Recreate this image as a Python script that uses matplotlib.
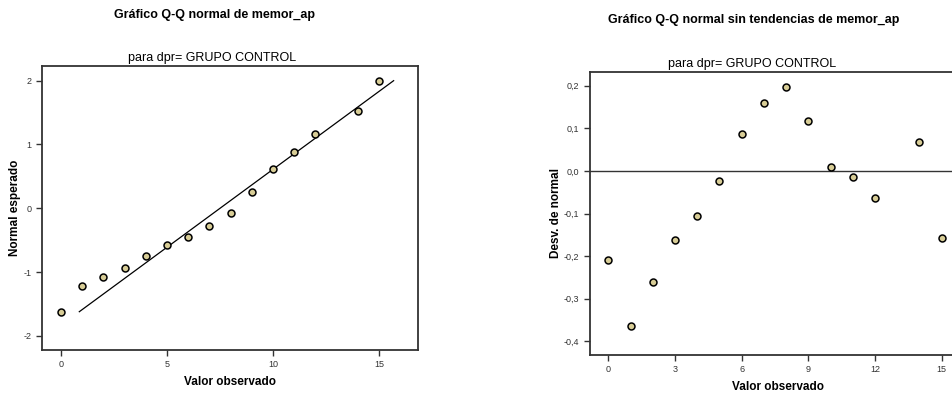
import matplotlib
matplotlib.use("Agg")
import matplotlib.pyplot as plt
from matplotlib.ticker import FuncFormatter

plt.rcParams['font.family'] = ['Liberation Sans', 'DejaVu Sans']
plt.rcParams['axes.unicode_minus'] = False

# datos
valor_obs = [0, 1, 2, 3, 4, 5, 6, 7, 8, 9, 10, 11, 12, 14, 15]
normal_esp = [-1.62, -1.22, -1.08, -0.93, -0.75, -0.58, -0.45, -0.28, -0.07,
              0.26, 0.61, 0.88, 1.17, 1.52, 1.99]
desv_normal = [-0.208, -0.363, -0.261, -0.162, -0.105, -0.023, 0.087, 0.160,
               0.196, 0.117, 0.009, -0.015, -0.064, 0.067, -0.157]
linea_x = [0.86, 15.69]
linea_y = [-1.62, 2.0]

marker_fc = '#d8cd96'
frame_c = '#333333'


def estilo(ax):
    for s in ax.spines.values():
        s.set_color(frame_c)
        s.set_linewidth(1.3)
    ax.tick_params(direction='out', length=4.5, width=1.0, color=frame_c,
                   labelsize=6.5, labelcolor='#333333', pad=3)


fig = plt.figure(figsize=(9.52, 3.95), dpi=100)

# grafico Q-Q normal
ax1 = fig.add_axes([42 / 952, 45 / 395, 376 / 952, 284 / 395])
ax1.plot(linea_x, linea_y, color='black', lw=0.9)
ax1.plot(valor_obs, normal_esp, 'o', ms=5, mfc=marker_fc, mec='black', mew=1.1)
ax1.set_xlim(-0.9, 16.84)
ax1.set_ylim(-2.22, 2.23)
ax1.set_xticks([0, 5, 10, 15])
ax1.set_yticks([-2, -1, 0, 1, 2])
estilo(ax1)
ax1.set_xlabel('Valor observado', fontsize=8.5, fontweight='bold', labelpad=5)
ax1.set_ylabel('Normal esperado', fontsize=8.5, fontweight='bold')
ax1.yaxis.set_label_coords(-0.056, 0.5)

# grafico sin tendencias
ax2 = fig.add_axes([590 / 952, 40 / 395, 376 / 952, 283 / 395])
ax2.axhline(0, color=frame_c, lw=1.0)
ax2.plot(valor_obs, desv_normal, 'o', ms=5, mfc=marker_fc, mec='black', mew=1.1)
ax2.set_xlim(-0.83, 16.1)
ax2.set_ylim(-0.432, 0.232)
ax2.set_xticks([0, 3, 6, 9, 12, 15])
ax2.set_yticks([-0.4, -0.3, -0.2, -0.1, 0.0, 0.1, 0.2])
ax2.yaxis.set_major_formatter(FuncFormatter(lambda v, p: f'{v:.1f}'.replace('.', ',')))
estilo(ax2)
ax2.set_xlabel('Valor observado', fontsize=8.5, fontweight='bold', labelpad=5)
ax2.set_ylabel('Desv. de normal', fontsize=8.5, fontweight='bold')
ax2.yaxis.set_label_coords(-0.074, 0.5)

fig.text(215 / 952, 1 - 15 / 395, 'Gráfico Q-Q normal de memor_ap', ha='center',
         va='center', fontsize=9, fontweight='bold')
fig.text(754 / 952, 1 - 20 / 395, 'Gráfico Q-Q normal sin tendencias de memor_ap',
         ha='center', va='center', fontsize=9, fontweight='bold')
fig.text(212 / 952, 1 - 58 / 395, 'para dpr= GRUPO CONTROL', ha='center',
         va='center', fontsize=9)
fig.text(752 / 952, 1 - 64 / 395, 'para dpr= GRUPO CONTROL', ha='center',
         va='center', fontsize=9)

fig.savefig('out.png', dpi=100)
